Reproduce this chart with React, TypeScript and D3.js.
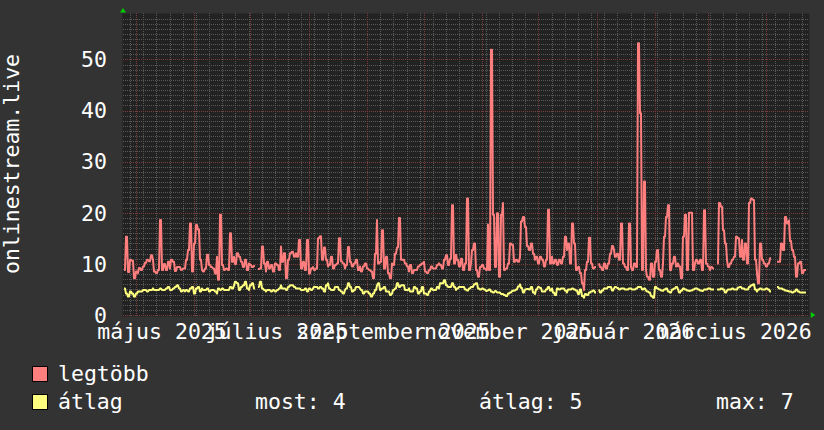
import React from 'react';
import * as d3 from 'd3';

// napi értékek 2025-04-25-től, null = hiányzó adat
const FIRST_DAY = new Date(Date.UTC(2025, 3, 25));

const legtobb = [
  8.8, 15.3, 8.4, 10.8, 10.6, 7.2, 8.5, 8.2, 9.2, 8.8,
  9.5, 10.2, 10.8, 10.5, 11.7, 10.8, 8.5, 8.2, 8.8, 18.6,
  8.8, 10.0, 8.8, 10.4, 9.1, 10.8, 10.4, 8.6, 9.4, 9.4,
  8.8, 9.1, 9.1, 10.8, 12.7, 17.9, 8.5, 14.0, 17.6, 16.7,
  10.8, 8.8, 8.5, 9.1, 11.8, 9.8, 9.4, 9.1, 8.1, 11.4,
  6.9, 19.6, 9.8, 8.8, 9.1, 8.8, 16.0, 10.4, 11.4, 10.0,
  12.1, 11.4, 10.4, 9.4, 10.8, 8.8, 10.1, 9.8, 9.4, 9.6,
  null, 9.0, 9.1, 13.4, 10.1, 8.5, 10.4, 9.1, 9.8, 8.5,
  10.1, 9.8, 8.8, 13.4, 10.4, 12.1, 7.2, 10.8, 12.1, 12.4,
  11.4, 12.1, 11.4, 14.7, 9.1, 10.4, 8.8, 14.7, 8.1, 9.1,
  9.4, 8.8, 9.1, 15.0, 15.4, 10.8, 13.2, 10.8, 9.5, 9.8,
  11.4, 9.1, 9.8, 10.1, 15.0, 10.5, 10.1, 9.1, 9.8, 13.3,
  10.4, 9.5, 10.1, 10.8, 8.8, 9.5, 8.5, 9.5, 10.1, 9.1,
  8.8, 8.5, 7.2, 12.0, 18.6, 10.1, 10.4, 16.6, 9.1, 11.4,
  8.2, 7.2, 10.1, 9.8, 12.0, 13.2, 19.0, 10.8, 10.8, 10.1,
  9.5, 8.5, 9.8, 8.2, 8.8, 8.8, 9.5, 9.8, 10.1, 10.4,
  8.5, 8.2, 8.8, 9.5, 9.1, 9.1, 9.8, 10.1, 9.8, 9.1,
  10.8, 11.7, 9.8, 11.0, 21.5, 10.1, 11.8, 10.8, 9.5, 11.0,
  8.8, 10.1, 22.8, 8.8, 10.1, 12.7, 14.0, 8.8, 7.5, 9.4,
  9.8, 9.1, 8.8, 17.7, 8.8, 51.9, 19.6, 9.4, 19.9, 7.5,
  19.6, 21.9, 8.8, 9.1, 10.1, 14.0, 13.7, 10.4, 10.8, 10.4,
  11.4, 18.3, 19.2, 17.2, 13.5, 12.7, 14.0, 12.0, 10.8, 11.4,
  10.1, 11.4, 10.8, 9.5, 10.8, 20.6, 10.1, 11.4, 10.1, 10.8,
  9.8, 10.8, 10.1, 11.4, 15.3, 12.7, 14.0, 10.1, 17.9, 14.0,
  8.8, 9.4, 8.2, 6.2, 4.9, 8.8, 10.4, 15.1, 10.1, 9.1,
  9.4, null, 10.1, 9.4, 8.8, 10.1, 9.1, 10.1, 12.0, 13.5,
  12.7, 11.4, 12.0, 10.8, 17.9, 10.1, 9.4, 8.8, 17.9, 9.4,
  8.8, 10.1, 9.4, 53.2, 39.5, 8.8, 26.1, 8.8, 7.5, 6.9,
  10.1, 7.5, 10.4, 12.7, 8.8, 7.5, 10.1, 15.3, 19.2, 21.5,
  8.8, 10.1, 11.4, 9.5, 10.1, 9.5, 7.2, 15.3, 19.6, 8.8,
  20.0, 20.0, 8.8, 10.1, 10.8, 10.1, 10.8, 8.8, 20.5, 10.1,
  9.5, 8.8, 9.4, 9.1, null, 10.1, 21.9, 21.2, 16.6, 14.0,
  10.8, 9.4, 10.1, 10.8, 11.4, 15.3, 15.0, 11.4, 14.7, 10.8,
  14.0, 10.1, 21.9, 22.8, 22.5, 10.8, 8.2, 6.2, 14.0, 10.8,
  10.1, 9.5, 10.1, 11.1, null, 7.5, null, 10.4, 10.4, 14.0,
  12.7, 19.2, 17.9, 18.5, 14.5, 12.7, 11.4, 7.5, 10.1, 10.4,
  8.2, 8.8, 8.8,
];

const atlag = [
  5.2, 4.2, 3.6, 4.6, 4.2, 3.6, 4.2, 4.6, 4.6, 4.6,
  4.9, 4.9, 4.6, 4.9, 4.9, 5.2, 4.9, 4.9, 4.9, 5.2,
  4.9, 4.9, 5.2, 5.5, 4.9, 4.9, 5.2, 5.5, 5.8, 5.2,
  4.6, 4.9, 4.6, 4.9, 4.6, 5.2, 5.5, 4.2, 5.2, 5.5,
  4.6, 5.2, 4.9, 4.9, 5.2, 4.6, 4.9, 4.9, 4.6, 4.2,
  5.2, 4.9, 5.2, 4.9, 4.9, 4.9, 5.5, 5.2, 5.8, 6.5,
  6.2, 4.9, 5.5, 5.8, 6.5, 5.2, 4.9, 5.8, 6.2, 5.2,
  null, 5.5, 6.5, 5.2, 4.9, 4.6, 4.9, 4.9, 4.6, 4.9,
  4.6, 4.9, 5.2, 5.8, 5.2, 5.2, 4.9, 5.5, 5.8, 5.8,
  5.5, 5.2, 5.2, 5.2, 4.9, 4.9, 5.2, 4.6, 5.2, 4.9,
  5.2, 5.5, 5.5, 5.2, 5.5, 5.2, 4.6, 5.8, 6.2, 5.2,
  4.9, 4.9, 5.5, 5.5, 4.9, 4.6, 4.2, 4.9, 5.2, 6.2,
  5.5, 4.6, 4.9, 5.5, 5.5, 5.2, 4.9, 4.2, 4.6, 4.6,
  4.2, 3.6, 4.2, 4.9, 5.8, 6.2, 4.9, 5.2, 5.5, 4.6,
  4.6, 3.9, 4.2, 4.9, 5.2, 6.2, 5.5, 5.8, 5.8, 4.9,
  4.9, 5.2, 4.6, 4.6, 5.5, 5.2, 4.2, 4.6, 5.5, 4.2,
  4.2, 3.9, 4.6, 5.2, 4.9, 4.9, 5.5, 5.2, 6.2, 6.2,
  6.8, 5.8, 5.5, 5.5, 6.2, 5.5, 4.9, 5.2, 5.5, 5.5,
  5.5, 5.0, 4.8, 5.2, 5.5, 5.5, 6.0, 6.2, 5.2, 5.0,
  5.2, 5.0, 4.7, 4.8, 5.0, 4.6, 4.4, 4.7, 4.4, 4.4,
  4.1, 4.1, 3.9, 3.7, 4.2, 4.4, 4.7, 4.8, 5.0, 5.6,
  6.0, 5.3, 4.4, 5.0, 5.1, 5.0, 5.5, 4.4, 4.1, 5.0,
  5.5, 5.3, 4.6, 4.6, 5.0, 5.5, 4.8, 5.2, 4.4, 3.9,
  5.2, 5.0, 5.2, 5.2, 4.8, 4.4, 5.0, 5.0, 5.2, 5.0,
  4.8, 4.1, 5.0, 3.7, 3.4, 4.1, 3.9, 4.4, 4.6, 4.8,
  4.4, null, 5.0, 4.4, 4.8, 5.2, 5.2, 5.5, 5.5, 4.8,
  5.2, 5.5, 5.3, 5.0, 5.2, 5.2, 5.0, 5.0, 5.2, 5.2,
  5.0, 5.0, 5.2, 5.5, 5.5, 5.0, 5.2, 4.8, 4.6, 4.4,
  3.7, 3.4, 5.5, 5.2, 5.0, 4.8, 4.7, 5.0, 5.2, 4.6,
  4.4, 5.0, 5.2, 5.5, 5.0, 4.4, 4.8, 5.2, 5.0, 4.8,
  4.7, 4.8, 5.0, 5.2, 5.2, 5.0, 4.8, 4.7, 5.0, 5.0,
  5.2, 5.2, 5.0, 5.0, null, 5.0, 5.0, 5.2, 5.0, 4.4,
  4.8, 5.0, 5.0, 5.2, 5.0, 5.0, 5.4, 5.5, 5.2, 5.2,
  5.0, 5.0, 5.5, 5.8, 6.0, 5.0, 4.6, 5.0, 5.2, 5.0,
  5.0, 5.2, 5.0, 4.6, null, 3.7, null, 5.5, 5.2, 5.2,
  5.0, 4.8, 4.7, 4.6, 4.6, 4.4, 4.6, 5.0, 4.6, 4.4,
  4.4, 4.4, 4.4,
];

const monthLabels = ['május 2025', 'július 2025', 'szeptember 2025', 'november 2025', 'január 2026', 'március 2026'];
const yTicks = [0, 10, 20, 30, 40, 50];
const yMax = 58.9;
const stats = ['most: 4', 'átlag: 5', 'max: 7'];

const width = 824;
const height = 430;
const left = 122.5;
const right = 809.3;
const top = 14;
const bottom = 315;
const font = '"DejaVu Sans Mono", monospace';

export default function App() {
  const x = d3.scaleUtc()
    .domain([new Date(Date.UTC(2025, 3, 24)), new Date(Date.UTC(2026, 3, 24))])
    .range([left, right]);
  const y = d3.scaleLinear().domain([0, yMax]).range([bottom, top]);

  // rrdtool módjára: minden képpontoszlop a saját napjának értékét kapja
  const columns = d3.range(Math.ceil(left), Math.floor(right) + 1);
  const sample = values => columns.map(px => {
    const i = d3.utcDay.count(FIRST_DAY, x.invert(px + 0.5));
    const t = x.invert(px + 0.5);
    const v = t >= FIRST_DAY && i < values.length ? values[i] : null;
    return { px, v };
  });

  const line = d3.line()
    .defined(d => d.v != null)
    .x(d => d.px)
    .y(d => y(d.v));

  const [d0, d1] = x.domain();
  const weeks = d3.utcMonday.range(d0, d1);
  const months = d3.utcMonth.range(d0, d1);
  const labelMonths = d3.utcMonth.every(2).range(d0, d1);
  const minorY = d3.range(1, Math.floor(yMax) + 1).filter(v => v % 10 !== 0);

  return (
    <div style={{ position: 'absolute', left: 0, top: 0 }}>
      <svg width={width} height={height} style={{ display: 'block' }}>
        <rect width={width} height={height} fill="#333333" />
        <rect x={left} y={top - 0.5} width={right - left} height={bottom - top + 2} fill="#222222" />

        <g stroke="#585858" strokeWidth={1} strokeDasharray="1,1" shapeRendering="crispEdges">
          {weeks.map((d, i) => (
            <line key={'w' + i} x1={Math.round(x(d)) + 0.5} x2={Math.round(x(d)) + 0.5} y1={top - 1} y2={bottom + 2} />
          ))}
          {minorY.map(v => (
            <line key={'h' + v} x1={left} x2={right} y1={Math.round(y(v)) + 0.5} y2={Math.round(y(v)) + 0.5} />
          ))}
        </g>
        <g stroke="#7a3c3c" strokeWidth={1} strokeDasharray="1,1" shapeRendering="crispEdges">
          {months.map((d, i) => (
            <line key={'m' + i} x1={Math.round(x(d)) + 0.5} x2={Math.round(x(d)) + 0.5} y1={top - 1} y2={bottom + 2} />
          ))}
          {yTicks.map(v => (
            <line key={'M' + v} x1={left} x2={right} y1={Math.round(y(v)) + 0.5} y2={Math.round(y(v)) + 0.5} />
          ))}
        </g>

        <path d={line(sample(legtobb))} fill="none" stroke="#ff7f7f" strokeWidth={2} strokeLinejoin="round" />
        <path d={line(sample(atlag))} fill="none" stroke="#ffff7f" strokeWidth={2} strokeLinejoin="round" />

        <path d={`M${left - 2.5},${top - 1.5} L${left + 3.5},${top - 1.5} L${left + 0.5},${top - 6} Z`} fill="#00d000" />
        <path d={`M${right + 1.5},${bottom - 3} L${right + 1.5},${bottom + 3} L${right + 6},${bottom} Z`} fill="#00d000" />

        <g fill="#ffffff" fontFamily={font} fontSize={21.5}>
          {yTicks.map(v => (
            <text key={v} x={107} y={y(v)} dy="0.36em" textAnchor="end">{v}</text>
          ))}
          {labelMonths.map((d, i) => (
            <text key={i} x={x(d3.utcDay.offset(d, 14))} y={339} textAnchor="middle">{monthLabels[i]}</text>
          ))}
          <text transform="translate(18.5,164) rotate(-90)" textAnchor="middle">onlinestream.live</text>

          <rect x={32.5} y={366.5} width={15} height={15} fill="#ff7f7f" stroke="#000" />
          <text x={58} y={381}>legtöbb</text>
          <rect x={32.5} y={394.5} width={15} height={15} fill="#ffff7f" stroke="#000" />
          <text x={58} y={409}>átlag</text>
          <text x={255} y={409}>{stats[0]}</text>
          <text x={479} y={409}>{stats[1]}</text>
          <text x={716} y={409}>{stats[2]}</text>
        </g>
      </svg>
    </div>
  );
}
